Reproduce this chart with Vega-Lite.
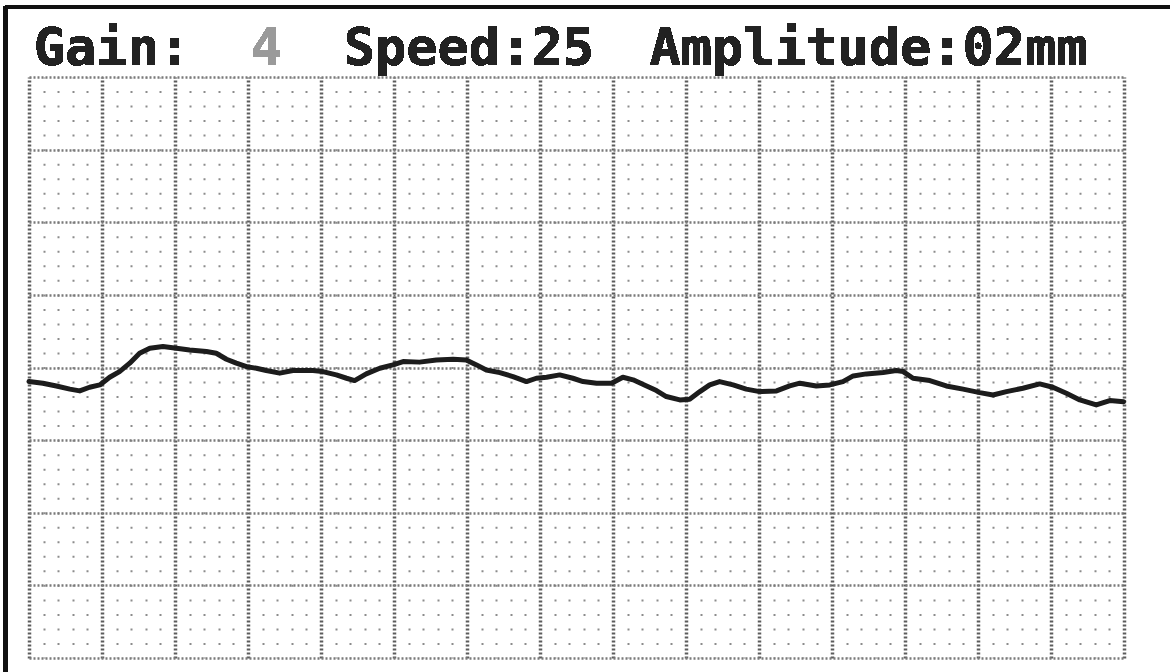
{
  "$schema": "https://vega.github.io/schema/vega-lite/v6.json",
  "width": 1095,
  "height": 581,
  "padding": {"left": 29, "top": 77, "right": 46, "bottom": 14},
  "autosize": {"type": "none"},
  "background": "white",
  "config": {"view": {"stroke": null}},
  "data": {"values": [
    {"t": 0.000, "v": -0.97}, {"t": 0.038, "v": -1.08}, {"t": 0.075, "v": -1.27}, {"t": 0.112, "v": -1.49},
    {"t": 0.139, "v": -1.61}, {"t": 0.166, "v": -1.36}, {"t": 0.194, "v": -1.20}, {"t": 0.221, "v": -0.67},
    {"t": 0.248, "v": -0.28}, {"t": 0.276, "v": 0.30}, {"t": 0.303, "v": 0.98}, {"t": 0.331, "v": 1.33},
    {"t": 0.367, "v": 1.44}, {"t": 0.404, "v": 1.33}, {"t": 0.440, "v": 1.21}, {"t": 0.486, "v": 1.10},
    {"t": 0.513, "v": 0.98}, {"t": 0.541, "v": 0.57}, {"t": 0.568, "v": 0.30}, {"t": 0.596, "v": 0.06},
    {"t": 0.623, "v": -0.05}, {"t": 0.650, "v": -0.21}, {"t": 0.687, "v": -0.39}, {"t": 0.723, "v": -0.21},
    {"t": 0.778, "v": -0.21}, {"t": 0.805, "v": -0.28}, {"t": 0.842, "v": -0.51}, {"t": 0.870, "v": -0.74},
    {"t": 0.892, "v": -0.90}, {"t": 0.924, "v": -0.44}, {"t": 0.961, "v": -0.05}, {"t": 0.997, "v": 0.18},
    {"t": 1.025, "v": 0.41}, {"t": 1.070, "v": 0.37}, {"t": 1.116, "v": 0.52}, {"t": 1.162, "v": 0.57},
    {"t": 1.198, "v": 0.52}, {"t": 1.226, "v": 0.18}, {"t": 1.253, "v": -0.17}, {"t": 1.290, "v": -0.35},
    {"t": 1.326, "v": -0.63}, {"t": 1.363, "v": -0.97}, {"t": 1.390, "v": -0.74}, {"t": 1.418, "v": -0.67},
    {"t": 1.454, "v": -0.51}, {"t": 1.490, "v": -0.74}, {"t": 1.518, "v": -0.97}, {"t": 1.555, "v": -1.08},
    {"t": 1.596, "v": -1.08}, {"t": 1.627, "v": -0.67}, {"t": 1.655, "v": -0.85}, {"t": 1.692, "v": -1.27},
    {"t": 1.719, "v": -1.59}, {"t": 1.746, "v": -2.00}, {"t": 1.783, "v": -2.23}, {"t": 1.810, "v": -2.18},
    {"t": 1.838, "v": -1.66}, {"t": 1.865, "v": -1.20}, {"t": 1.892, "v": -0.97}, {"t": 1.929, "v": -1.20},
    {"t": 1.965, "v": -1.49}, {"t": 2.002, "v": -1.66}, {"t": 2.048, "v": -1.61}, {"t": 2.084, "v": -1.27},
    {"t": 2.112, "v": -1.08}, {"t": 2.157, "v": -1.27}, {"t": 2.194, "v": -1.20}, {"t": 2.230, "v": -0.97},
    {"t": 2.258, "v": -0.58}, {"t": 2.294, "v": -0.44}, {"t": 2.340, "v": -0.35}, {"t": 2.376, "v": -0.21},
    {"t": 2.395, "v": -0.28}, {"t": 2.422, "v": -0.74}, {"t": 2.468, "v": -0.90}, {"t": 2.513, "v": -1.27},
    {"t": 2.559, "v": -1.49}, {"t": 2.605, "v": -1.73}, {"t": 2.641, "v": -1.89}, {"t": 2.678, "v": -1.66},
    {"t": 2.723, "v": -1.43}, {"t": 2.769, "v": -1.13}, {"t": 2.805, "v": -1.36}, {"t": 2.842, "v": -1.77},
    {"t": 2.879, "v": -2.23}, {"t": 2.924, "v": -2.58}, {"t": 2.961, "v": -2.28}, {"t": 2.999, "v": -2.35}
  ]},
  "layer": [
    {
      "mark": {"type": "point", "opacity": 0},
      "encoding": {
        "x": {"field": "t", "type": "quantitative",
          "scale": {"domain": [0, 3], "nice": false, "zero": false},
          "axis": {"values": [0.04,0.08,0.12,0.16,0.24,0.28,0.32,0.36,0.44,0.48,0.52,0.56,0.64,0.68,0.72,0.76,0.84,0.88,0.92,0.96,1.04,1.08,1.12,1.16,1.24,1.28,1.32,1.36,1.44,1.48,1.52,1.56,1.64,1.68,1.72,1.76,1.84,1.88,1.92,1.96,2.04,2.08,2.12,2.16,2.24,2.28,2.32,2.36,2.44,2.48,2.52,2.56,2.64,2.68,2.72,2.76,2.84,2.88,2.92,2.96],
            "grid": true, "gridColor": "#8c8c8c", "gridWidth": 2, "gridDash": [2, 12.525], "gridDashOffset": 1,
            "labels": false, "ticks": false, "domain": false, "title": null}},
        "y": {"field": "v", "type": "quantitative",
          "scale": {"domain": [-20, 20], "nice": false, "zero": false}, "axis": null}
      }
    },
    {
      "mark": {"type": "line", "color": "#1c1c1c", "strokeWidth": 5, "strokeJoin": "round", "strokeCap": "round"},
      "encoding": {
        "x": {"field": "t", "type": "quantitative",
          "scale": {"domain": [0, 3], "nice": false, "zero": false},
          "axis": {"values": [0,0.2,0.4,0.6,0.8,1,1.2,1.4,1.6,1.8,2,2.2,2.4,2.6,2.8,3],
            "grid": true, "gridColor": "#5c5c5c", "gridWidth": 3.5, "gridDash": [2, 2],
            "labels": false, "ticks": false, "domain": false, "title": null}},
        "y": {"field": "v", "type": "quantitative",
          "scale": {"domain": [-20, 20], "nice": false, "zero": false},
          "axis": {"values": [-20,-15,-10,-5,0,5,10,15,20],
            "grid": true, "gridColor": "#7a7a7a", "gridWidth": 2.5, "gridDash": [2, 2],
            "labels": false, "ticks": false, "domain": false, "title": null}}
      }
    },
    {
      "mark": {"type": "rule", "color": "#111111", "strokeWidth": 4.5},
      "encoding": {
        "x": {"datum": -0.0638, "scale": {"domain": [0, 3], "nice": false, "zero": false}, "axis": null},
        "y": {"datum": 24.83, "scale": {"domain": [-20, 20], "nice": false, "zero": false}, "axis": null},
        "y2": {"datum": -21}
      }
    },
    {
      "mark": {"type": "rule", "color": "#111111", "strokeWidth": 3},
      "encoding": {
        "x": {"datum": -0.0638, "scale": {"domain": [0, 3], "nice": false, "zero": false}, "axis": null},
        "x2": {"datum": 3.13},
        "y": {"datum": 24.83, "scale": {"domain": [-20, 20], "nice": false, "zero": false}, "axis": null}
      }
    },
    {
      "mark": {"type": "text", "font": "DejaVu Sans Mono", "fontWeight": "bold", "fontSize": 52, "align": "left", "baseline": "alphabetic", "color": "#222222"},
      "encoding": {
        "x": {"datum": 0.013, "scale": {"domain": [0, 3], "nice": false, "zero": false}, "axis": null},
        "y": {"datum": 20.84, "scale": {"domain": [-20, 20], "nice": false, "zero": false}, "axis": null},
        "text": {"value": "Gain:"}
      }
    },
    {
      "mark": {"type": "text", "font": "DejaVu Sans Mono", "fontWeight": "bold", "fontSize": 52, "align": "left", "baseline": "alphabetic", "color": "#9a9a9a"},
      "encoding": {
        "x": {"datum": 0.607, "scale": {"domain": [0, 3], "nice": false, "zero": false}, "axis": null},
        "y": {"datum": 20.84, "scale": {"domain": [-20, 20], "nice": false, "zero": false}, "axis": null},
        "text": {"value": "4"}
      }
    },
    {
      "mark": {"type": "text", "font": "DejaVu Sans Mono", "fontWeight": "bold", "fontSize": 52, "align": "left", "baseline": "alphabetic", "color": "#222222"},
      "encoding": {
        "x": {"datum": 0.862, "scale": {"domain": [0, 3], "nice": false, "zero": false}, "axis": null},
        "y": {"datum": 20.84, "scale": {"domain": [-20, 20], "nice": false, "zero": false}, "axis": null},
        "text": {"value": "Speed:25"}
      }
    },
    {
      "mark": {"type": "text", "font": "DejaVu Sans Mono", "fontWeight": "bold", "fontSize": 52, "align": "left", "baseline": "alphabetic", "color": "#222222"},
      "encoding": {
        "x": {"datum": 1.700, "scale": {"domain": [0, 3], "nice": false, "zero": false}, "axis": null},
        "y": {"datum": 20.84, "scale": {"domain": [-20, 20], "nice": false, "zero": false}, "axis": null},
        "text": {"value": "Amplitude:02mm"}
      }
    }
  ],
  "resolve": {"axis": {"x": "independent", "y": "independent"}}
}
